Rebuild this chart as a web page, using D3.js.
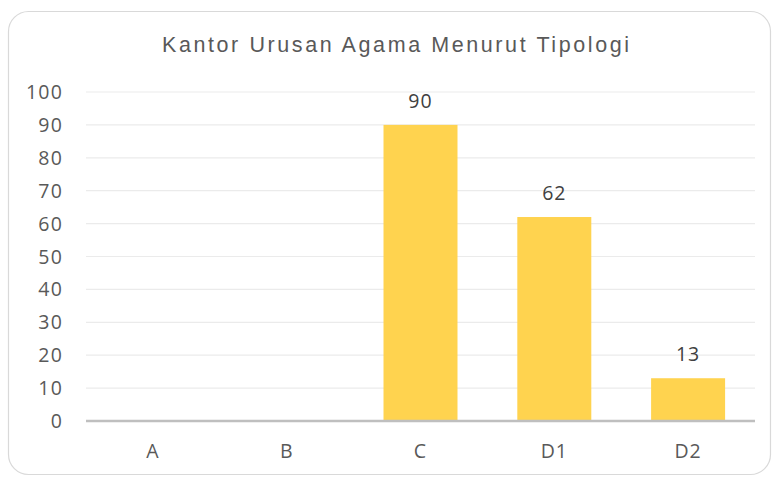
<!DOCTYPE html>
<html>
<head>
<meta charset="utf-8">
<script src="https://cdn.jsdelivr.net/npm/d3@7"></script>
<style>
  body { margin: 0; background: #fff; }
  text { font-family: "Open Sans", "DejaVu Sans", sans-serif; }
</style>
</head>
<body>
<div id="chart"></div>
<script>
// chart data
const categories = ["A", "B", "C", "D1", "D2"];
const values = [0, 0, 90, 62, 13];
const yTicks = [0, 10, 20, 30, 40, 50, 60, 70, 80, 90, 100];
const title = "Kantor Urusan Agama Menurut Tipologi";

const width = 774, height = 477;
const margin = { top: 92, right: 19, bottom: 56, left: 86 };

const svg = d3.select("#chart").append("svg")
  .attr("width", width)
  .attr("height", height);

// outer rounded frame
svg.append("rect")
  .attr("x", 8.5).attr("y", 11.5)
  .attr("width", 762).attr("height", 463)
  .attr("rx", 20)
  .attr("fill", "#fff")
  .attr("stroke", "#d9d9d9")
  .attr("stroke-width", 1.2);

const x = d3.scaleBand()
  .domain(categories)
  .range([margin.left, width - margin.right])
  .paddingInner(0.447)
  .paddingOuter(0.2235);

const y = d3.scaleLinear()
  .domain([0, 100])
  .range([height - margin.bottom, margin.top]);

// gridlines
svg.append("g")
  .selectAll("line")
  .data(yTicks.filter(d => d > 0))
  .enter().append("line")
  .attr("x1", margin.left).attr("x2", width - margin.right)
  .attr("y1", d => y(d)).attr("y2", d => y(d))
  .attr("stroke", "#ebebeb")
  .attr("stroke-width", 1.2);

// y labels
svg.append("g")
  .selectAll("text")
  .data(yTicks)
  .enter().append("text")
  .attr("x", 63)
  .attr("y", d => y(d))
  .attr("dy", "0.36em")
  .attr("text-anchor", "end")
  .attr("font-size", 19.5)
  .attr("letter-spacing", 1.2)
  .attr("fill", "#595959")
  .text(d => d);

// bars
svg.append("g")
  .selectAll("rect")
  .data(values)
  .enter().append("rect")
  .attr("x", (d, i) => x(categories[i]))
  .attr("width", x.bandwidth())
  .attr("y", d => y(d))
  .attr("height", d => y(0) - y(d))
  .attr("fill", "#ffd34f");

// data labels (only for non-zero bars)
svg.append("g")
  .selectAll("text")
  .data(values.map((v, i) => ({ v, c: categories[i] })).filter(d => d.v > 0))
  .enter().append("text")
  .attr("x", d => x(d.c) + x.bandwidth() / 2)
  .attr("y", d => y(d.v) - 17)
  .attr("text-anchor", "middle")
  .attr("font-size", 19.5)
  .attr("letter-spacing", 1)
  .attr("fill", "#404040")
  .text(d => d.v);

// x axis line
svg.append("line")
  .attr("x1", margin.left).attr("x2", width - margin.right)
  .attr("y1", y(0)).attr("y2", y(0))
  .attr("stroke", "#bfbfbf")
  .attr("stroke-width", 2.5);

// x labels
svg.append("g")
  .selectAll("text")
  .data(categories)
  .enter().append("text")
  .attr("x", d => x(d) + x.bandwidth() / 2)
  .attr("y", 458)
  .attr("text-anchor", "middle")
  .attr("font-size", 19.5)
  .attr("letter-spacing", 1)
  .attr("fill", "#595959")
  .text(d => d);

// title
svg.append("text")
  .attr("x", 162)
  .attr("y", 52)
  .style("font-family", "'Liberation Sans', Arial, sans-serif")
  .attr("font-size", 21.5)
  .attr("textLength", 467)
  .attr("lengthAdjust", "spacing")
  .attr("fill", "#595959")
  .text(title);
</script>
</body>
</html>
